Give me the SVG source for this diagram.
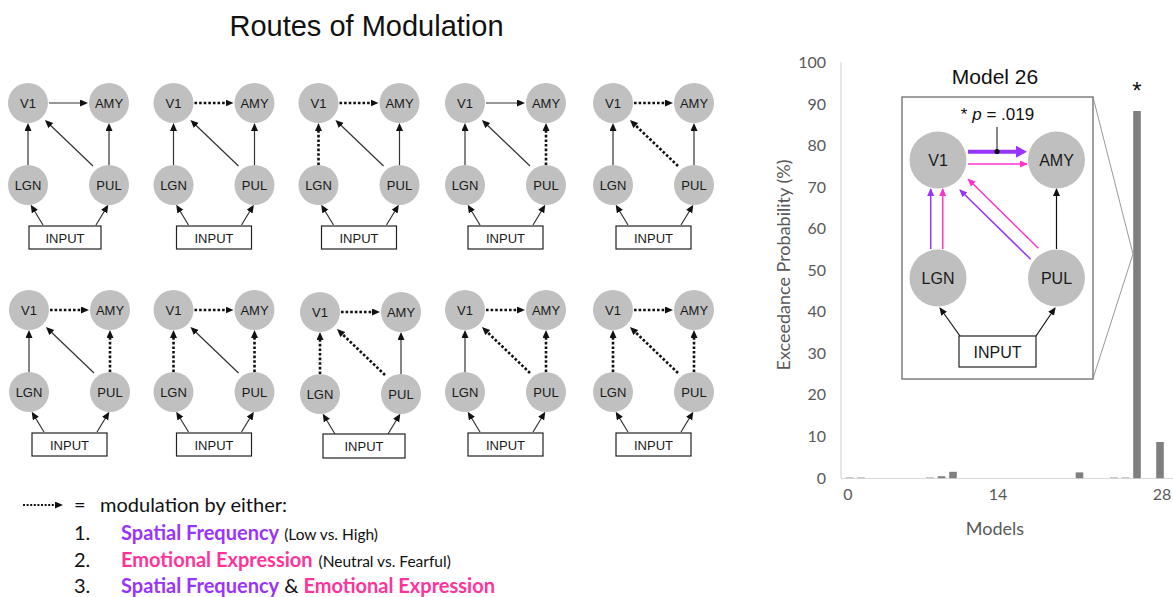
<svg xmlns="http://www.w3.org/2000/svg" width="1173" height="597" viewBox="0 0 1173 597">
<defs>
<marker id="ah" markerUnits="userSpaceOnUse" markerWidth="9" markerHeight="8" refX="3" refY="3.5" orient="auto"><path d="M0,0 L8,3.5 L0,7 z" fill="#111"/></marker>
<marker id="ahk" markerUnits="userSpaceOnUse" markerWidth="9" markerHeight="8" refX="7" refY="3.5" orient="auto"><path d="M0,0 L8,3.5 L0,7 z" fill="#111"/></marker>
<marker id="ahp" markerUnits="userSpaceOnUse" markerWidth="9" markerHeight="8" refX="7" refY="3.5" orient="auto"><path d="M0,0 L8,3.5 L0,7 z" fill="#9933ff"/></marker>
<marker id="ahm" markerUnits="userSpaceOnUse" markerWidth="9" markerHeight="8" refX="7" refY="3.5" orient="auto"><path d="M0,0 L8,3.5 L0,7 z" fill="#ff33cc"/></marker>
<marker id="ahP" markerUnits="userSpaceOnUse" markerWidth="12" markerHeight="13" refX="4" refY="6" orient="auto"><path d="M0,0 L11,6 L0,12 z" fill="#9933ff"/></marker>
</defs>
<style>
.nd{fill:#c0c0c0}
.nt{font-family:"Liberation Sans",Arial,sans-serif;font-size:13px;fill:#1a1a1a;text-anchor:middle}
.ib{fill:#fff;stroke:#222;stroke-width:1.2}
.s{stroke:#333;stroke-width:1.2;fill:none;marker-end:url(#ah)}
.d{stroke:#111;stroke-width:2.6;stroke-dasharray:2.6 2;fill:none;marker-end:url(#ah)}
.ax{font-family:Lato,"Open Sans",sans-serif;font-size:16px;fill:#595959}
.tick{text-anchor:end}
.bar{fill:#7f7f7f}
.tiny{fill:#c8c8c8}
.it{font-family:"Liberation Sans",Arial,sans-serif;font-size:16px;fill:#1a1a1a;text-anchor:middle}
.in{fill:#bfbfbf}
.lk{stroke:#111;stroke-width:1.2;fill:none;marker-end:url(#ahk)}
.lp{stroke:#9933ff;stroke-width:1.5;fill:none;marker-end:url(#ahp)}
.lm{stroke:#ff33cc;stroke-width:1.5;fill:none;marker-end:url(#ahm)}
.lg{font-family:Lato,"Open Sans",sans-serif;font-size:20px;fill:#111}
.pu{fill:#9933ff;font-weight:bold}
.pk{fill:#ff3399;font-weight:bold}
.sm{font-size:15.5px}
</style>

<text x="366.5" y="36" font-family="Liberation Sans, Arial, sans-serif" font-size="29" fill="#111" text-anchor="middle">Routes of Modulation</text>

<!-- Top row -->
<g id="t1" transform="translate(28,103)">
<g id="t1-conn"><path class="s" d="M21,0 L55,0"/><path class="s" d="M0,62 L0,25"/><path class="s" d="M65,63 L20.6,20.5"/><path class="s" d="M81,62 L81,25"/><path class="s" d="M15,122 L5.3,106"/><path class="s" d="M68,122 L77.7,106"/></g>
<g id="t1-v1"><circle class="nd" r="20"/><text class="nt" y="4.5">V1</text></g>
<g id="t1-amy"><circle class="nd" cx="81" r="20"/><text class="nt" x="81" y="4.5">AMY</text></g>
<g id="t1-lgn"><circle class="nd" cy="82" r="20"/><text class="nt" y="86.5">LGN</text></g>
<g id="t1-pul"><circle class="nd" cx="81" cy="82" r="20"/><text class="nt" x="81" y="86.5">PUL</text></g>
<g id="t1-input"><rect class="ib" x="1" y="123" width="72" height="23"/><text class="nt" x="37" y="139.5">INPUT</text></g>
</g>

<g id="t2" transform="translate(173.5,103)">
<g id="t2-conn"><path class="d" d="M21,0 L55,0"/><path class="s" d="M0,62 L0,25"/><path class="s" d="M65,63 L20.6,20.5"/><path class="s" d="M81,62 L81,25"/><path class="s" d="M15,122 L5.3,106"/><path class="s" d="M68,122 L77.7,106"/></g>
<g id="t2-v1"><circle class="nd" r="20"/><text class="nt" y="4.5">V1</text></g>
<g id="t2-amy"><circle class="nd" cx="81" r="20"/><text class="nt" x="81" y="4.5">AMY</text></g>
<g id="t2-lgn"><circle class="nd" cy="82" r="20"/><text class="nt" y="86.5">LGN</text></g>
<g id="t2-pul"><circle class="nd" cx="81" cy="82" r="20"/><text class="nt" x="81" y="86.5">PUL</text></g>
<g id="t2-input"><rect class="ib" x="3" y="123" width="75" height="23"/><text class="nt" x="40.5" y="139.5">INPUT</text></g>
</g>

<g id="t3" transform="translate(318.5,103)">
<g id="t3-conn"><path class="d" d="M21,0 L55,0"/><path class="d" d="M0,62 L0,25"/><path class="s" d="M65,63 L20.6,20.5"/><path class="s" d="M81,62 L81,25"/><path class="s" d="M15,122 L5.3,106"/><path class="s" d="M68,122 L77.7,106"/></g>
<g id="t3-v1"><circle class="nd" r="20"/><text class="nt" y="4.5">V1</text></g>
<g id="t3-amy"><circle class="nd" cx="81" r="20"/><text class="nt" x="81" y="4.5">AMY</text></g>
<g id="t3-lgn"><circle class="nd" cy="82" r="20"/><text class="nt" y="86.5">LGN</text></g>
<g id="t3-pul"><circle class="nd" cx="81" cy="82" r="20"/><text class="nt" x="81" y="86.5">PUL</text></g>
<g id="t3-input"><rect class="ib" x="3" y="123" width="75" height="23"/><text class="nt" x="40.5" y="139.5">INPUT</text></g>
</g>

<g id="t4" transform="translate(465,103)">
<g id="t4-conn"><path class="s" d="M21,0 L55,0"/><path class="s" d="M0,62 L0,25"/><path class="s" d="M65,63 L20.6,20.5"/><path class="d" d="M81,62 L81,25"/><path class="s" d="M15,122 L5.3,106"/><path class="s" d="M68,122 L77.7,106"/></g>
<g id="t4-v1"><circle class="nd" r="20"/><text class="nt" y="4.5">V1</text></g>
<g id="t4-amy"><circle class="nd" cx="81" r="20"/><text class="nt" x="81" y="4.5">AMY</text></g>
<g id="t4-lgn"><circle class="nd" cy="82" r="20"/><text class="nt" y="86.5">LGN</text></g>
<g id="t4-pul"><circle class="nd" cx="81" cy="82" r="20"/><text class="nt" x="81" y="86.5">PUL</text></g>
<g id="t4-input"><rect class="ib" x="3" y="123" width="75" height="23"/><text class="nt" x="40.5" y="139.5">INPUT</text></g>
</g>

<g id="t5" transform="translate(613,103)">
<g id="t5-conn"><path class="d" d="M21,0 L55,0"/><path class="s" d="M0,62 L0,25"/><path class="d" d="M65,63 L20.6,20.5"/><path class="s" d="M81,62 L81,25"/><path class="s" d="M15,122 L5.3,106"/><path class="s" d="M68,122 L77.7,106"/></g>
<g id="t5-v1"><circle class="nd" r="20"/><text class="nt" y="4.5">V1</text></g>
<g id="t5-amy"><circle class="nd" cx="81" r="20"/><text class="nt" x="81" y="4.5">AMY</text></g>
<g id="t5-lgn"><circle class="nd" cy="82" r="20"/><text class="nt" y="86.5">LGN</text></g>
<g id="t5-pul"><circle class="nd" cx="81" cy="82" r="20"/><text class="nt" x="81" y="86.5">PUL</text></g>
<g id="t5-input"><rect class="ib" x="3" y="123" width="75" height="23"/><text class="nt" x="40.5" y="139.5">INPUT</text></g>
</g>

<!-- Bottom row -->
<g id="b1" transform="translate(29,310)">
<g id="b1-conn"><path class="d" d="M21,0 L55,0"/><path class="s" d="M0,62 L0,25"/><path class="s" d="M65,63 L20.6,20.5"/><path class="d" d="M81,62 L81,25"/><path class="s" d="M15,122 L5.3,106"/><path class="s" d="M68,122 L77.7,106"/></g>
<g id="b1-v1"><circle class="nd" r="20"/><text class="nt" y="4.5">V1</text></g>
<g id="b1-amy"><circle class="nd" cx="81" r="20"/><text class="nt" x="81" y="4.5">AMY</text></g>
<g id="b1-lgn"><circle class="nd" cy="82" r="20"/><text class="nt" y="86.5">LGN</text></g>
<g id="b1-pul"><circle class="nd" cx="81" cy="82" r="20"/><text class="nt" x="81" y="86.5">PUL</text></g>
<g id="b1-input"><rect class="ib" x="3" y="123" width="75" height="23"/><text class="nt" x="40.5" y="139.5">INPUT</text></g>
</g>

<g id="b2" transform="translate(173.5,310)">
<g id="b2-conn"><path class="d" d="M21,0 L55,0"/><path class="d" d="M0,62 L0,25"/><path class="s" d="M65,63 L20.6,20.5"/><path class="d" d="M81,62 L81,25"/><path class="s" d="M15,122 L5.3,106"/><path class="s" d="M68,122 L77.7,106"/></g>
<g id="b2-v1"><circle class="nd" r="20"/><text class="nt" y="4.5">V1</text></g>
<g id="b2-amy"><circle class="nd" cx="81" r="20"/><text class="nt" x="81" y="4.5">AMY</text></g>
<g id="b2-lgn"><circle class="nd" cy="82" r="20"/><text class="nt" y="86.5">LGN</text></g>
<g id="b2-pul"><circle class="nd" cx="81" cy="82" r="20"/><text class="nt" x="81" y="86.5">PUL</text></g>
<g id="b2-input"><rect class="ib" x="3" y="123" width="75" height="23"/><text class="nt" x="40.5" y="139.5">INPUT</text></g>
</g>

<g id="b3" transform="translate(320,312)">
<g id="b3-conn"><path class="d" d="M21,0 L55,0"/><path class="d" d="M0,62 L0,25"/><path class="d" d="M65,63 L20.6,20.5"/><path class="s" d="M81,62 L81,25"/><path class="s" d="M15,122 L5.3,106"/><path class="s" d="M68,122 L77.7,106"/></g>
<g id="b3-v1"><circle class="nd" r="20"/><text class="nt" y="4.5">V1</text></g>
<g id="b3-amy"><circle class="nd" cx="81" r="20"/><text class="nt" x="81" y="4.5">AMY</text></g>
<g id="b3-lgn"><circle class="nd" cy="82" r="20"/><text class="nt" y="86.5">LGN</text></g>
<g id="b3-pul"><circle class="nd" cx="81" cy="82" r="20"/><text class="nt" x="81" y="86.5">PUL</text></g>
<g id="b3-input"><rect class="ib" x="3" y="122" width="82" height="24"/><text class="nt" x="44" y="139">INPUT</text></g>
</g>

<g id="b4" transform="translate(465,310)">
<g id="b4-conn"><path class="d" d="M21,0 L55,0"/><path class="s" d="M0,62 L0,25"/><path class="d" d="M65,63 L20.6,20.5"/><path class="d" d="M81,62 L81,25"/><path class="s" d="M15,122 L5.3,106"/><path class="s" d="M68,122 L77.7,106"/></g>
<g id="b4-v1"><circle class="nd" r="20"/><text class="nt" y="4.5">V1</text></g>
<g id="b4-amy"><circle class="nd" cx="81" r="20"/><text class="nt" x="81" y="4.5">AMY</text></g>
<g id="b4-lgn"><circle class="nd" cy="82" r="20"/><text class="nt" y="86.5">LGN</text></g>
<g id="b4-pul"><circle class="nd" cx="81" cy="82" r="20"/><text class="nt" x="81" y="86.5">PUL</text></g>
<g id="b4-input"><rect class="ib" x="3" y="123" width="75" height="23"/><text class="nt" x="40.5" y="139.5">INPUT</text></g>
</g>

<g id="b5" transform="translate(613,310)">
<g id="b5-conn"><path class="d" d="M21,0 L55,0"/><path class="d" d="M0,62 L0,25"/><path class="d" d="M65,63 L20.6,20.5"/><path class="d" d="M81,62 L81,25"/><path class="s" d="M15,122 L5.3,106"/><path class="s" d="M68,122 L77.7,106"/></g>
<g id="b5-v1"><circle class="nd" r="20"/><text class="nt" y="4.5">V1</text></g>
<g id="b5-amy"><circle class="nd" cx="81" r="20"/><text class="nt" x="81" y="4.5">AMY</text></g>
<g id="b5-lgn"><circle class="nd" cy="82" r="20"/><text class="nt" y="86.5">LGN</text></g>
<g id="b5-pul"><circle class="nd" cx="81" cy="82" r="20"/><text class="nt" x="81" y="86.5">PUL</text></g>
<g id="b5-input"><rect class="ib" x="3" y="123" width="75" height="23"/><text class="nt" x="40.5" y="139.5">INPUT</text></g>
</g>

<!-- Legend -->
<g id="legend">
<path d="M23,505 L58,505" stroke="#111" stroke-width="2.2" stroke-dasharray="2 1.6" fill="none" marker-end="url(#ah)"/>
<text class="lg" x="74" y="512">=</text>
<text class="lg" x="100" y="512">modulation by either:</text>
<text class="lg" x="74" y="540">1.</text>
<text class="lg" x="121" y="540"><tspan class="pu">Spatial Frequency</tspan><tspan class="sm" dx="5">(Low vs. High)</tspan></text>
<text class="lg" x="74" y="567">2.</text>
<text class="lg" x="121" y="567"><tspan class="pk">Emotional Expression</tspan><tspan class="sm" dx="6">(Neutral vs. Fearful)</tspan></text>
<text class="lg" x="74" y="593">3.</text>
<text class="lg" x="121" y="593"><tspan class="pu">Spatial Frequency</tspan><tspan dx="5">&amp;</tspan><tspan class="pk" dx="5">Emotional Expression</tspan></text>
</g>

<!-- Chart -->
<g id="chart">
<line x1="841" y1="62" x2="841" y2="478" stroke="#d9d9d9" stroke-width="1.2"/>
<line x1="841" y1="478.5" x2="1173" y2="478.5" stroke="#d9d9d9" stroke-width="1.2"/>
<g class="ax tick">
<text x="826" y="68">100</text>
<text x="826" y="109.5">90</text>
<text x="826" y="151">80</text>
<text x="826" y="192.5">70</text>
<text x="826" y="234">60</text>
<text x="826" y="275.5">50</text>
<text x="826" y="317">40</text>
<text x="826" y="358.5">30</text>
<text x="826" y="400">20</text>
<text x="826" y="441.5">10</text>
<text x="826" y="483.5">0</text>
</g>
<g class="ax" text-anchor="middle">
<text x="848" y="500">0</text>
<text x="998" y="500">14</text>
<text x="1162" y="500">28</text>
<text x="995" y="535" font-size="18">Models</text>
<text transform="translate(790,265) rotate(-90)" font-size="18">Exceedance Probability (%)</text>
</g>
<g id="bars">
<rect class="tiny" x="845.7" y="477" width="7.6" height="1.2"/>
<rect class="tiny" x="857.2" y="477" width="7.6" height="1.2"/>
<rect class="tiny" x="926.2" y="477" width="7.6" height="1.2"/>
<rect class="bar" x="937.7" y="476.2" width="7.6" height="2"/>
<rect class="bar" x="949.2" y="471.8" width="7.6" height="6.4"/>
<rect class="bar" x="1075.7" y="472.4" width="7.6" height="5.8"/>
<rect class="tiny" x="1110.2" y="477" width="7.6" height="1.2"/>
<rect class="tiny" x="1121.7" y="477" width="7.6" height="1.2"/>
<rect class="bar" x="1133.2" y="111" width="7.6" height="367.2"/>
<rect class="bar" x="1156.2" y="442" width="7.6" height="36.2"/>
</g>
<text x="1137" y="99" font-family="Liberation Sans, Arial, sans-serif" font-size="24" fill="#111" text-anchor="middle">*</text>
<path d="M1093,97 L1133,254 L1093,378.5" stroke="#999" stroke-width="1" fill="none"/>
</g>

<!-- Inset Model 26 -->
<g id="inset">
<rect x="902" y="97" width="191" height="282" fill="#fff" stroke="#7f7f7f" stroke-width="1.5"/>
<text x="995" y="84" font-family="Liberation Sans, Arial, sans-serif" font-size="21" fill="#111" text-anchor="middle">Model 26</text>
<g id="inset-conn">
<path d="M968,151.7 L1020,151.7" stroke="#9933ff" stroke-width="4" fill="none" marker-end="url(#ahP)"/>
<path class="lm" d="M968,164 L1027,164"/>
<path class="lp" d="M930.7,249 L930.7,189"/>
<path class="lm" d="M942.7,249 L942.7,189"/>
<path class="lm" d="M1038.3,248.3 L968.3,179.3"/>
<path class="lp" d="M1030.7,259.3 L960,190"/>
<path class="lk" d="M1056.5,249 L1056.5,189"/>
<path class="lk" d="M960,336 L940,308"/>
<path class="lk" d="M1036,336 L1055,308"/>
<path d="M997,127 L997,151" stroke="#111" stroke-width="1"/>
<circle cx="997" cy="151.5" r="2.6" fill="#111"/>
</g>
<text x="997.5" y="120" font-family="Liberation Sans, Arial, sans-serif" font-size="17" fill="#111" text-anchor="middle">* <tspan font-style="italic">p</tspan> = .019</text>
<g id="i-v1"><circle class="in" cx="938" cy="160" r="28.5"/><text class="it" x="938" y="165.5">V1</text></g>
<g id="i-amy"><circle class="in" cx="1056.5" cy="160" r="28.5"/><text class="it" x="1056.5" y="165.5">AMY</text></g>
<g id="i-lgn"><circle class="in" cx="938" cy="278" r="28.5"/><text class="it" x="938" y="283.5">LGN</text></g>
<g id="i-pul"><circle class="in" cx="1056.5" cy="278" r="28.5"/><text class="it" x="1056.5" y="283.5">PUL</text></g>
<g id="i-input"><rect x="959" y="336" width="77" height="31" fill="#fff" stroke="#222" stroke-width="1.2"/><text class="it" x="997.5" y="357.5">INPUT</text></g>
</g>
</svg>
